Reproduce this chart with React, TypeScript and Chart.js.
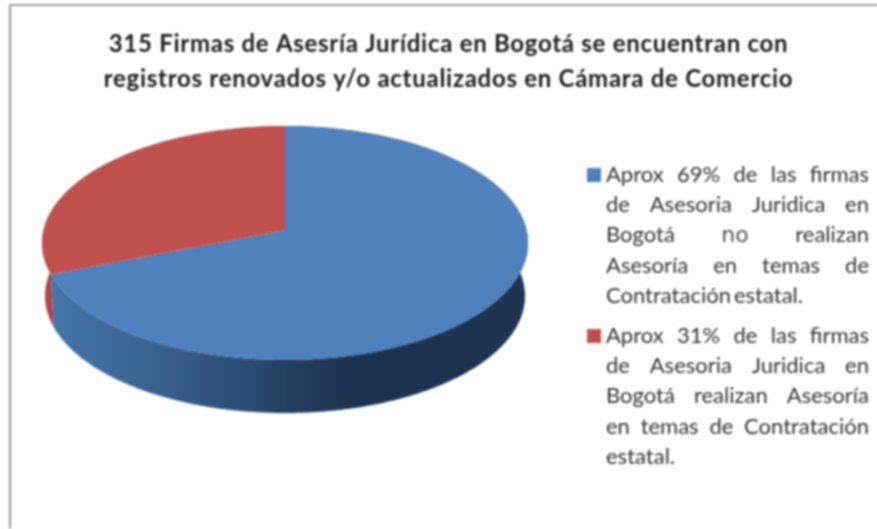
import React, { useEffect, useRef } from "react";
import { Chart, registerables } from "chart.js";

Chart.register(...registerables);

const categories = [
  "Aprox 69% de las firmas de Asesoria Juridica en Bogotá no realizan Asesoría en temas de Contratación estatal.",
  "Aprox 31% de las firmas de Asesoria Juridica en Bogotá realizan Asesoría en temas de Contratación estatal.",
];
const shares = [69, 31];
const sliceColors = ["#4f81bd", "#c0504d"];
const sideStops = [
  [[0, "#4676ad"], [0.22, "#3a6391"], [0.43, "#2a4a70"], [0.53, "#223c5c"], [0.64, "#1e3350"], [1, "#1e3350"]],
  [[0, "#b04644"], [1, "#b84c49"]],
];
const titleLines = [
  "315 Firmas de Asesría Jurídica en Bogotá se encuentran con",
  "registros renovados y/o actualizados en Cámara de Comercio",
];
const legendLines = [
  ["Aprox 69% de las firmas", "de Asesoria Juridica en", "Bogotá no realizan", "Asesoría en temas de", "Contratación estatal."],
  ["Aprox 31% de las firmas", "de Asesoria Juridica en", "Bogotá realizan Asesoría", "en temas de Contratación", "estatal."],
];
const emphasisedWord = "no";

const W = 877;
const H = 529;
const ASPECT = 243 / 117;
const PERSPECTIVE = -13 / 117;
const DEPTH = 53;
const BASE_SHRINK = 240 / 243;
const LEGEND = { swatchX: 587, swatchSize: 14, textX: 606, textRight: 869, baselines: [182, 343], lineStep: 30.2 };

function project(el: any, theta: number, depth: number, shrink: number) {
  const u = Math.cos(theta);
  const v = Math.sin(theta);
  const a = PERSPECTIVE;
  const d = 1 + a * v;
  const k = Math.sqrt(1 - a * a);
  return {
    x: el.x + (u * k) / d * el.outerRadius * ASPECT * shrink,
    y: el.y + depth + ((v + a) / d) * el.outerRadius,
  };
}

function samples(start: number, end: number) {
  const out: number[] = [];
  const n = Math.max(2, Math.ceil((end - start) / 0.01));
  for (let i = 0; i <= n; i++) out.push(start + ((end - start) * i) / n);
  return out;
}

const pie3d = {
  id: "pie3d",
  beforeDatasetDraw(chart: any, args: any) {
    const ctx = chart.ctx;
    const arcs = chart.getDatasetMeta(args.index).data;
    ctx.save();
    [1, 0].forEach((i) => {
      const el = arcs[i];
      const thetas = samples(el.startAngle, el.endAngle);
      const left = el.x - el.outerRadius * ASPECT;
      const grad = ctx.createLinearGradient(left, 0, el.x + el.outerRadius * ASPECT, 0);
      sideStops[i].forEach(([o, c]: any) => grad.addColorStop(o, c));
      ctx.beginPath();
      thetas.forEach((t, j) => {
        const p = project(el, t, 0, 1);
        j ? ctx.lineTo(p.x, p.y) : ctx.moveTo(p.x, p.y);
      });
      [...thetas].reverse().forEach((t) => {
        const p = project(el, t, DEPTH, BASE_SHRINK);
        ctx.lineTo(p.x, p.y);
      });
      ctx.closePath();
      ctx.fillStyle = grad;
      ctx.fill();
    });
    arcs.forEach((el: any) => {
      const apex = { x: el.x, y: el.y + PERSPECTIVE * el.outerRadius };
      ctx.beginPath();
      ctx.moveTo(apex.x, apex.y);
      samples(el.startAngle, el.endAngle).forEach((t) => {
        const p = project(el, t, 0, 1);
        ctx.lineTo(p.x, p.y);
      });
      ctx.closePath();
      ctx.fillStyle = el.options.backgroundColor;
      ctx.fill();
    });
    ctx.restore();
    return false;
  },
};

const frame = {
  id: "frame",
  afterLayout(chart: any) {
    chart.titleBlock.left = 20;
    chart.titleBlock.right = W;
  },
  beforeDraw(chart: any) {
    const ctx = chart.ctx;
    ctx.save();
    ctx.strokeStyle = "#9a9a9a";
    ctx.lineWidth = 2;
    ctx.beginPath();
    ctx.moveTo(10, H);
    ctx.lineTo(10, 5);
    ctx.lineTo(W, 5);
    ctx.stroke();
    ctx.restore();
    ctx.letterSpacing = "0.72px";
  },
};

const wrappedLegend = {
  id: "wrappedLegend",
  afterDraw(chart: any) {
    const ctx = chart.ctx;
    const normal = "22px Lato";
    const special = "22px 'DejaVu Sans'";
    ctx.save();
    ctx.letterSpacing = "0px";
    ctx.textBaseline = "alphabetic";
    legendLines.forEach((lines, s) => {
      const base = LEGEND.baselines[s];
      ctx.fillStyle = sliceColors[s];
      ctx.fillRect(LEGEND.swatchX, base - LEGEND.swatchSize, LEGEND.swatchSize, LEGEND.swatchSize);
      lines.forEach((line, l) => {
        const y = base + l * LEGEND.lineStep;
        const words = line.split(" ");
        const font = (w: string) => (w === emphasisedWord ? special : normal);
        const widths = words.map((w) => {
          ctx.font = font(w);
          return ctx.measureText(w).width;
        });
        const total = widths.reduce((a, b) => a + b, 0);
        const justify = l < lines.length - 1;
        const gap = justify ? (LEGEND.textRight - LEGEND.textX - total) / (words.length - 1) : 3;
        let x = LEGEND.textX;
        words.forEach((w, i) => {
          ctx.font = font(w);
          ctx.fillStyle = w === emphasisedWord ? "#505050" : "#333333";
          ctx.fillText(w, x, y);
          x += widths[i] + gap;
        });
      });
    });
    ctx.restore();
    ctx.letterSpacing = "0px";
  },
};

export default function App() {
  const ref = useRef<HTMLCanvasElement>(null);
  useEffect(() => {
    const chart = new Chart(ref.current!, {
      type: "pie",
      data: {
        labels: categories,
        datasets: [{ data: shares, backgroundColor: sliceColors, borderWidth: 0 }],
      },
      options: {
        animation: false,
        responsive: false,
        events: [],
        layout: { padding: { left: 42, right: W - 528, top: 6, bottom: H - 360 } },
        plugins: {
          legend: { display: false },
          tooltip: { enabled: false },
          title: {
            display: true,
            text: titleLines,
            color: "#1c1c1c",
            font: { family: "Lato", size: 24, weight: "bold", lineHeight: 35 / 24 },
            padding: { top: 21, bottom: 29 },
          },
        },
      },
      plugins: [frame, pie3d, wrappedLegend],
    } as any);
    return () => chart.destroy();
  }, []);
  return (
    <canvas
      ref={ref}
      width={W}
      height={H}
      style={{ position: "fixed", left: 0, top: 0, width: W, height: H, filter: "blur(0.8px)" }}
    />
  );
}
